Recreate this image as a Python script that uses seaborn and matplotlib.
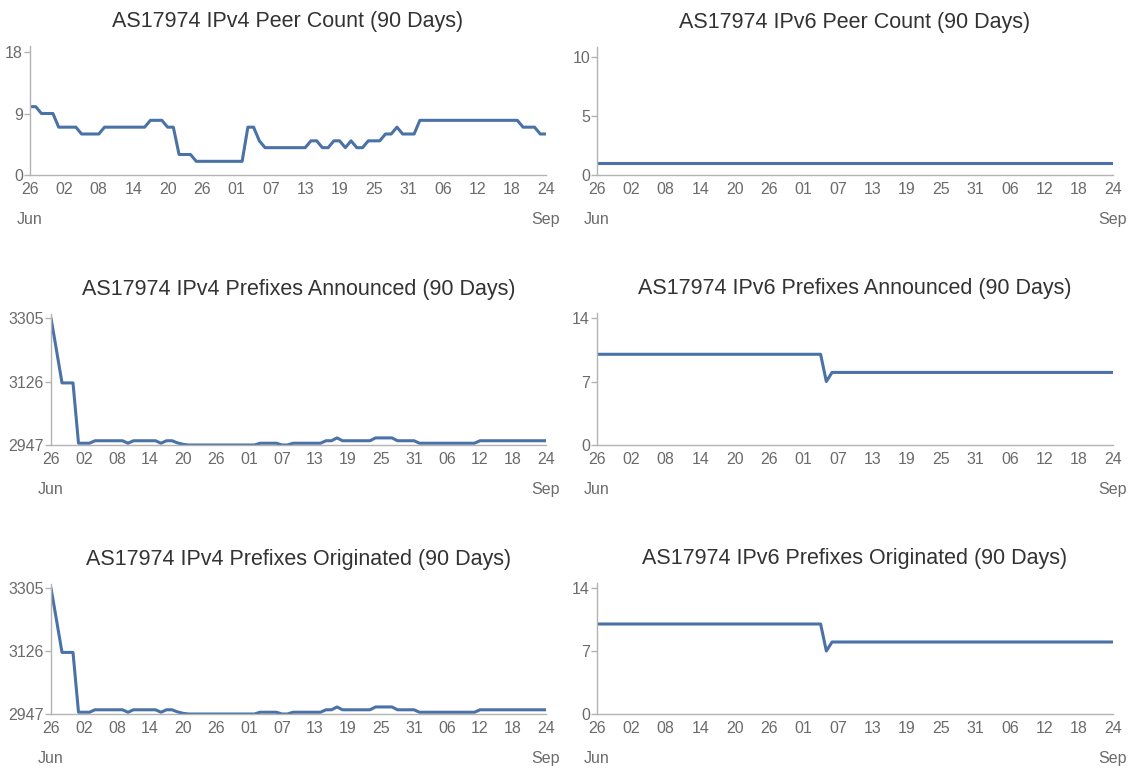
import numpy as np
import pandas as pd
import matplotlib
matplotlib.use('Agg')
import matplotlib.pyplot as plt
import seaborn as sns

# 91 dias, del 26 de junio al 24 de septiembre
dates = pd.date_range('2014-06-26', '2014-09-24', freq='D')

# valores, un valor por dia
v4_peers = [10, 10, 9, 9, 9, 7, 7, 7, 7, 6, 6, 6, 6,
            7, 7, 7, 7, 7, 7, 7, 7, 8, 8, 8, 7, 7,
            3, 3, 3, 2, 2, 2, 2, 2, 2, 2, 2, 2, 7,
            7, 5, 4, 4, 4, 4, 4, 4, 4, 4, 5, 5, 4,
            4, 5, 5, 4, 5, 4, 4, 5, 5, 5, 6, 6, 7,
            6, 6, 6, 8, 8, 8, 8, 8, 8, 8, 8, 8, 8,
            8, 8, 8, 8, 8, 8, 8, 8, 7, 7, 7, 6, 6]

v6_peers = [1, 1, 1, 1, 1, 1, 1, 1, 1, 1, 1, 1, 1,
            1, 1, 1, 1, 1, 1, 1, 1, 1, 1, 1, 1, 1,
            1, 1, 1, 1, 1, 1, 1, 1, 1, 1, 1, 1, 1,
            1, 1, 1, 1, 1, 1, 1, 1, 1, 1, 1, 1, 1,
            1, 1, 1, 1, 1, 1, 1, 1, 1, 1, 1, 1, 1,
            1, 1, 1, 1, 1, 1, 1, 1, 1, 1, 1, 1, 1,
            1, 1, 1, 1, 1, 1, 1, 1, 1, 1, 1, 1, 1]

v4_announced = [3305, 3214, 3122, 3122, 3122, 2952, 2952, 2952, 2959, 2959, 2959, 2959, 2959,
                2959, 2952, 2959, 2959, 2959, 2959, 2959, 2952, 2959, 2959, 2953, 2949, 2947,
                2947, 2947, 2947, 2947, 2947, 2947, 2947, 2947, 2947, 2947, 2947, 2947, 2952,
                2952, 2952, 2952, 2947, 2947, 2952, 2952, 2952, 2952, 2952, 2952, 2959, 2959,
                2967, 2959, 2959, 2959, 2959, 2959, 2959, 2967, 2967, 2967, 2967, 2959, 2959,
                2959, 2959, 2952, 2952, 2952, 2952, 2952, 2952, 2952, 2952, 2952, 2952, 2952,
                2959, 2959, 2959, 2959, 2959, 2959, 2959, 2959, 2959, 2959, 2959, 2959, 2959]

v6_announced = [10, 10, 10, 10, 10, 10, 10, 10, 10, 10, 10, 10, 10,
                10, 10, 10, 10, 10, 10, 10, 10, 10, 10, 10, 10, 10,
                10, 10, 10, 10, 10, 10, 10, 10, 10, 10, 10, 10, 10,
                10, 7, 8, 8, 8, 8, 8, 8, 8, 8, 8, 8, 8,
                8, 8, 8, 8, 8, 8, 8, 8, 8, 8, 8, 8, 8,
                8, 8, 8, 8, 8, 8, 8, 8, 8, 8, 8, 8, 8,
                8, 8, 8, 8, 8, 8, 8, 8, 8, 8, 8, 8, 8]

# los originados se ven igual que los anunciados
v4_originated = list(v4_announced)
v6_originated = list(v6_announced)

v4_peer_ticks = [0, 9, 18]
v6_peer_ticks = [0, 5, 10]
v4_prefix_ticks = [2947, 3126, 3305]
v6_prefix_ticks = [0, 7, 14]

titles = ['AS17974 IPv4 Peer Count (90 Days)', 'AS17974 IPv6 Peer Count (90 Days)',
          'AS17974 IPv4 Prefixes Announced (90 Days)', 'AS17974 IPv6 Prefixes Announced (90 Days)',
          'AS17974 IPv4 Prefixes Originated (90 Days)', 'AS17974 IPv6 Prefixes Originated (90 Days)']

series = [v4_peers, v6_peers, v4_announced, v6_announced, v4_originated, v6_originated]
yticks = [v4_peer_ticks, v6_peer_ticks, v4_prefix_ticks, v6_prefix_ticks,
          v4_prefix_ticks, v6_prefix_ticks]

sns.set_theme(style='white')
plt.rcParams['font.family'] = ['Liberation Sans', 'DejaVu Sans']

W, H = 1137, 780
# cajas en pixeles: x0, x1, arriba, abajo, pixel del tick mas alto
boxes = [(30, 546, 46, 175, 52), (597, 1113, 47, 175, 57),
         (51, 546, 314, 445, 318), (597, 1113, 313, 445, 318),
         (51, 546, 584, 714, 588), (597, 1113, 583, 714, 588)]

line_color = '#4a72a6'
axis_color = '#b3b3b3'
text_color = '#6b6b6b'

fig = plt.figure(figsize=(W / 100, H / 100), dpi=100)

xt = dates[::6]
xlabels = [d.strftime('%d') for d in xt]
xlabels[0] = xlabels[0] + '\n' + xt[0].strftime('%b')
xlabels[-1] = xlabels[-1] + '\n' + xt[-1].strftime('%b')

for vals, title, ticks, (x0, x1, top, bot, ttop) in zip(series, titles, yticks, boxes):
    ax = fig.add_axes([x0 / W, 1 - bot / H, (x1 - x0) / W, (bot - top) / H])
    df = pd.DataFrame({'date': dates, 'value': vals})
    sns.lineplot(data=df, x='date', y='value', ax=ax, color=line_color, linewidth=2.2)

    lo, hi = ticks[0], ticks[-1]
    ax.set_ylim(lo, lo + (hi - lo) * (bot - top) / (bot - ttop))
    ax.set_xlim(dates[0], dates[-1])
    ax.set_yticks(ticks)
    ax.set_yticklabels([str(t) for t in ticks])
    ax.set_xticks(xt)
    ax.set_xticklabels(xlabels)
    for lab in ax.get_xticklabels():
        lab.set_linespacing(2.24)
        lab.set_verticalalignment('top')

    ax.set_xlabel('')
    ax.set_ylabel('')
    for s in ['top', 'right']:
        ax.spines[s].set_visible(False)
    for s in ['left', 'bottom']:
        ax.spines[s].set_color(axis_color)
        ax.spines[s].set_linewidth(1)
    ax.tick_params(axis='y', length=4, width=1, color=axis_color, pad=1,
                   labelsize=11.5, labelcolor=text_color, left=True)
    ax.tick_params(axis='x', length=0, pad=5, labelsize=11.5, labelcolor=text_color)
    ax.set_title(title, fontsize=15.5, color='#333333', pad=14)
    ax.grid(False)

fig.savefig('out.png', dpi=100)
